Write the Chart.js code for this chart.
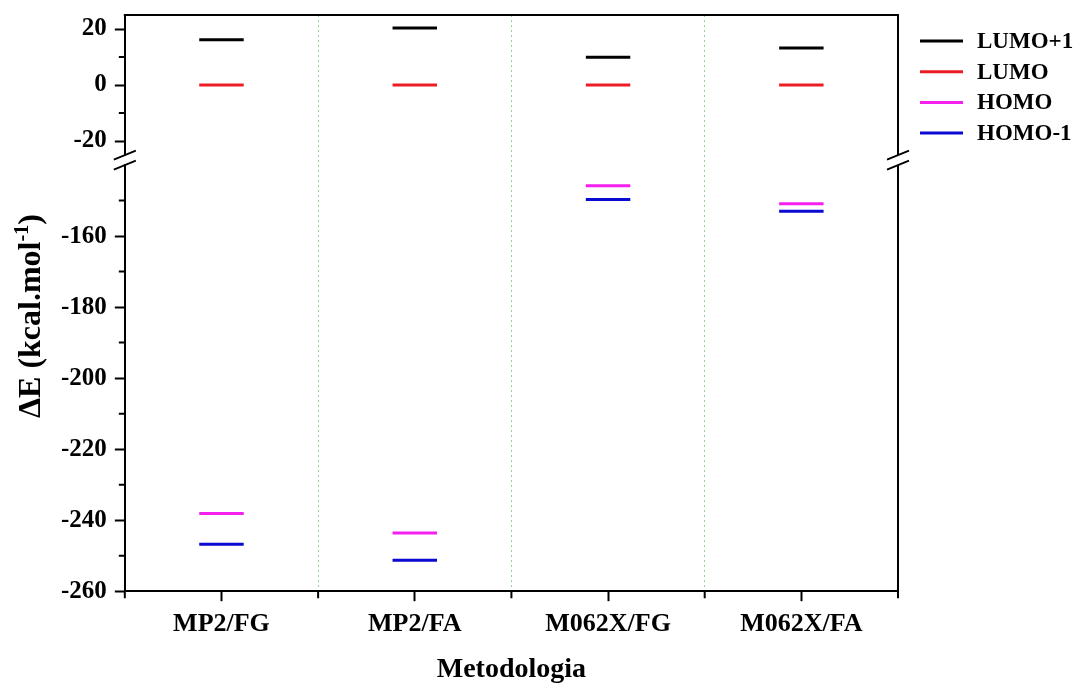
<!DOCTYPE html>
<html>
<head>
<meta charset="utf-8">
<script src="https://cdn.jsdelivr.net/npm/chart.js@4/dist/chart.umd.min.js"></script>
<style>
  html, body { margin: 0; padding: 0; background: #fff; }
  #wrap { width: 1079px; height: 684px; }
</style>
</head>
<body>
<div id="wrap"><canvas id="c"></canvas></div>
<script>
// Methodologies on the x axis
const categories = ['MP2/FG', 'MP2/FA', 'M062X/FG', 'M062X/FA'];

// Orbital energy levels, kcal/mol
const lumoPlus1  = [16.2, 20.4, 9.9, 13.2];
const lumo       = [0, 0, 0, 0];
const homo       = [-238.1, -243.6, -145.8, -150.9];
const homoMinus1 = [-246.8, -251.3, -149.7, -153.0];

// Broken y axis: upper and lower segments
const upperRange = [-25, 25];
const lowerRange = [-260, -140];
const yStep = 10;
const yLabelEvery = 20;

const SERIF = "'Liberation Serif', 'Times New Roman', serif";
const HALF = 0.115; // half length of a level mark, in category units

// Each level is a short horizontal segment centred on its category
function levelSegments(values) {
  const pts = [];
  values.forEach((v, i) => {
    pts.push({ x: i - HALF, y: v }, { x: i + HALF, y: v }, { x: i + 0.5, y: null });
  });
  return pts;
}

function levelSet(label, values, color, axis) {
  return {
    label, data: levelSegments(values), yAxisID: axis,
    borderColor: color, backgroundColor: color, borderWidth: 3,
    showLine: true, spanGaps: false, pointRadius: 0, pointHoverRadius: 0
  };
}

const isMajorY = v => Math.abs(v % yLabelEvery) < 1e-9;
const isMinorY = v => Math.abs(v % yStep) < 1e-9 && !isMajorY(v);

// no extra label overhang around the plot area
const noOverhang = s => { s.paddingTop = 0; s.paddingBottom = 0; s.paddingLeft = 0; s.paddingRight = 0; };

function yScale(range, weight, stackWeight) {
  const showLabel = v => isMajorY(v) && v < range[1];
  return {
    type: 'linear', position: 'left', stack: 'energy', stackWeight, weight,
    min: range[0], max: range[1],
    afterBuildTicks: s => {
      const ticks = [];
      for (let v = Math.ceil(range[0] / yStep) * yStep; v <= range[1]; v += yStep) ticks.push({ value: v });
      s.ticks = ticks;
    },
    afterFit: noOverhang,
    ticks: {
      autoSkip: false, padding: 8, color: '#000',
      font: { family: SERIF, weight: 'bold', size: 25 },
      callback: v => showLabel(v) ? String(v) : ''
    },
    grid: {
      drawOnChartArea: false, tickLength: 10, tickWidth: 2,
      tickColor: c => (c.tick && showLabel(c.tick.value)) ? '#000' : 'rgba(0,0,0,0)'
    },
    border: { display: true, color: '#000', width: 2 }
  };
}

// Frame, break marks and minor ticks
const framePlugin = {
  id: 'frame',
  afterDraw(chart) {
    const { ctx, chartArea: a, scales } = chart;
    const top = scales.yTop, bot = scales.yBot, x = scales.x;
    ctx.save();
    ctx.strokeStyle = '#000';
    ctx.lineWidth = 2;
    ctx.beginPath();
    ctx.moveTo(a.left - 1, a.top); ctx.lineTo(a.right + 1, a.top);
    ctx.moveTo(a.right, a.top); ctx.lineTo(a.right, top.bottom);
    ctx.moveTo(a.right, bot.top); ctx.lineTo(a.right, a.bottom);
    ctx.stroke();

    // minor ticks
    ctx.beginPath();
    [top, bot].forEach(s => {
      s.ticks.forEach(t => {
        if (isMinorY(t.value)) {
          const py = s.getPixelForValue(t.value);
          ctx.moveTo(a.left - 6, py); ctx.lineTo(a.left, py);
        }
      });
    });
    x.ticks.forEach(t => {
      if (!Number.isInteger(t.value)) {
        const px = x.getPixelForValue(t.value);
        ctx.moveTo(px, a.bottom); ctx.lineTo(px, a.bottom + 7);
      }
    });
    ctx.stroke();

    // axis break marks
    ctx.lineWidth = 1.8;
    ctx.beginPath();
    [a.left, a.right].forEach(px => {
      [top.bottom, bot.top].forEach(py => {
        ctx.moveTo(px - 11, py + 4.5); ctx.lineTo(px + 11, py - 4.5);
      });
    });
    ctx.stroke();
    ctx.restore();
  }
};

// Legend to the right of the plot, one row per dataset
const sideLegend = {
  id: 'sideLegend',
  afterDraw(chart) {
    const { ctx, chartArea: a } = chart;
    const x0 = a.right + 22, lineLen = 43, rowH = 30.7;
    ctx.save();
    ctx.font = `bold 23px ${SERIF}`;
    ctx.textBaseline = 'middle';
    ctx.textAlign = 'left';
    chart.data.datasets.forEach((ds, i) => {
      const y = a.top + 26 + i * rowH;
      ctx.strokeStyle = ds.borderColor;
      ctx.lineWidth = ds.borderWidth;
      ctx.beginPath();
      ctx.moveTo(x0, y); ctx.lineTo(x0 + lineLen, y);
      ctx.stroke();
      ctx.fillStyle = '#000';
      ctx.fillText(ds.label, x0 + lineLen + 14, y + 1);
    });
    ctx.restore();
  }
};

// Rotated y-axis title with superscript
const yTitlePlugin = {
  id: 'yTitle',
  afterDraw(chart) {
    const { ctx, chartArea: a } = chart;
    const main = `bold 32px ${SERIF}`;
    const sup = `bold 20px ${SERIF}`;
    const p1 = 'ΔE (kcal.mol', p2 = '-1', p3 = ')';
    ctx.save();
    ctx.font = main;
    const w1 = ctx.measureText(p1).width, w3 = ctx.measureText(p3).width;
    ctx.font = sup;
    const w2 = ctx.measureText(p2).width;
    const total = w1 + w2 + w3;
    ctx.translate(40, (a.top + a.bottom) / 2 + 13);
    ctx.rotate(-Math.PI / 2);
    ctx.fillStyle = '#000';
    ctx.textBaseline = 'alphabetic';
    ctx.textAlign = 'left';
    let cx = -total / 2;
    ctx.font = main; ctx.fillText(p1, cx, 0); cx += w1;
    ctx.font = sup; ctx.fillText(p2, cx, -12); cx += w2;
    ctx.font = main; ctx.fillText(p3, cx, 0);
    ctx.restore();
  }
};

new Chart(document.getElementById('c'), {
  type: 'scatter',
  data: {
    datasets: [
      levelSet('LUMO+1', lumoPlus1, '#000000', 'yTop'),
      levelSet('LUMO', lumo, '#ec1c24', 'yTop'),
      levelSet('HOMO', homo, '#f51ff0', 'yBot'),
      levelSet('HOMO-1', homoMinus1, '#0a0ad2', 'yBot')
    ]
  },
  options: {
    responsive: true, maintainAspectRatio: false, animation: false,
    layout: { padding: { left: 53, top: 15, right: 181, bottom: 0 } },
    plugins: {
      legend: { display: false },
      tooltip: { enabled: false }
    },
    scales: {
      x: {
        type: 'linear', min: -0.5, max: categories.length - 0.5,
        afterFit: noOverhang,
        ticks: {
          stepSize: 0.5, autoSkip: false, maxRotation: 0, padding: 7, color: '#000',
          font: { family: SERIF, weight: 'bold', size: 26 },
          callback: v => Number.isInteger(v) ? categories[v] : ''
        },
        grid: {
          lineWidth: 1, tickLength: 10, tickWidth: 2,
          color: c => (c.tick && !Number.isInteger(c.tick.value) && c.tick.value > -0.5 && c.tick.value < categories.length - 0.5) ? '#8fd48f' : 'rgba(0,0,0,0)',
          tickColor: c => (c.tick && Number.isInteger(c.tick.value)) ? '#000' : 'rgba(0,0,0,0)'
        },
        border: { display: true, color: '#000', width: 2, dash: [2, 3] },
        title: {
          display: true, text: 'Metodologia', color: '#000',
          font: { family: SERIF, weight: 'bold', size: 28 }, padding: { top: 7, bottom: -3 }
        }
      },
      yTop: yScale(upperRange, 3, 140),
      yGap: {
        type: 'linear', position: 'left', stack: 'energy', stackWeight: 10, weight: 2,
        afterFit: noOverhang,
        ticks: { display: false }, grid: { display: false }, border: { display: false }
      },
      yBot: yScale(lowerRange, 1, 426)
    }
  },
  plugins: [framePlugin, sideLegend, yTitlePlugin]
});
</script>
</body>
</html>
